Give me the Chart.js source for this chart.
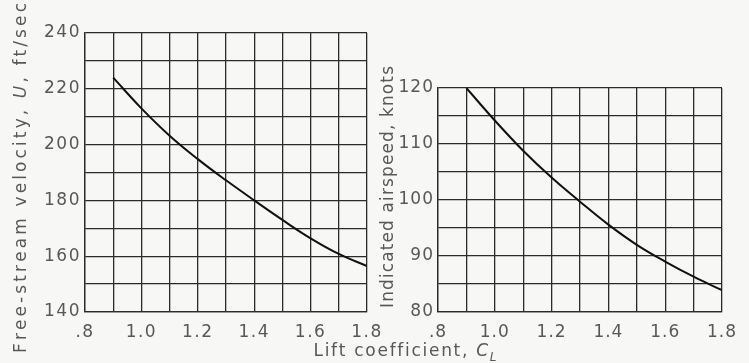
<!DOCTYPE html>
<html><head><meta charset="utf-8">
<script src="https://cdn.jsdelivr.net/npm/chart.js@4.4.1/dist/chart.umd.min.js"></script>
<style>
html,body{margin:0;padding:0;background:#f7f7f5;}
#wrap{position:relative;width:749px;height:363px;overflow:hidden;}
canvas{position:absolute;left:0;top:0;}
</style></head><body>
<div id="wrap"><canvas id="c1" width="749" height="363"></canvas><canvas id="c2" width="749" height="363"></canvas></div>
<script>
// ---- data ----
const liftCoefficient = [0.9, 1.0, 1.1, 1.2, 1.3, 1.4, 1.5, 1.6, 1.7, 1.8];
const freeStreamVelocity = [224, 213, 203.2, 194.8, 187.2, 180, 173, 166.4, 160.8, 156.5];
const indicatedAirspeed = [120, 114.2, 108.8, 104, 99.7, 95.6, 92, 89, 86.3, 83.9];
const xTickLabels = ['.8', '1.0', '1.2', '1.4', '1.6', '1.8'];
const velocityTickLabels = ['140', '160', '180', '200', '220', '240'];
const airspeedTickLabels = ['80', '90', '100', '110', '120'];
const velocityTitle = [{t: 'Free-stream velocity, '}, {t: 'U', it: true}, {t: ', ft/sec'}];
const airspeedTitle = [{t: 'Indicated airspeed, knots'}];
const xTitle = [{t: 'Lift coefficient, '}, {t: 'C', it: true}, {t: 'L', it: true, sub: true}];

// ---- style ----
const FAMILY = '"DejaVu Sans", sans-serif';
const TXT = '#585858';
const GRID = '#2b2b2b';
const FS = 17;

function drawRich(ctx, segs, cx, cy, rot, size, targetLen) {
  ctx.save();
  ctx.translate(cx, cy);
  if (rot) ctx.rotate(-Math.PI / 2);
  ctx.fillStyle = TXT;
  ctx.textBaseline = 'alphabetic';
  ctx.textAlign = 'left';
  ctx.letterSpacing = '0px';
  const fontFor = s => (s.it ? 'italic ' : '') + (s.sub ? Math.round(size * 0.72) : size) + 'px ' + FAMILY;
  const chars = [];
  segs.forEach(s => { for (const ch of s.t) chars.push({ch, s}); });
  let w = 0;
  chars.forEach(c => { ctx.font = fontFor(c.s); c.w = ctx.measureText(c.ch).width; w += c.w; });
  const ls = (targetLen - w) / (chars.length - 1);
  let x = -targetLen / 2;
  chars.forEach(c => {
    ctx.font = fontFor(c.s);
    ctx.fillText(c.ch, x, c.s.sub ? size * 0.28 : 0);
    x += c.w + ls;
  });
  ctx.restore();
}

function spacingPlugin(px) {
  return {
    id: 'spacing',
    beforeDraw(chart) { chart.ctx.letterSpacing = px + 'px'; },
    afterDraw(chart) { chart.ctx.letterSpacing = '0px'; }
  };
}

function makeChart(id, cfg) {
  return new Chart(document.getElementById(id), {
    type: 'line',
    data: {
      datasets: [{
        data: liftCoefficient.map((x, i) => ({x, y: cfg.values[i]})),
        borderColor: '#111', borderWidth: 2, pointRadius: 0,
        tension: 0.4, fill: false
      }]
    },
    options: {
      responsive: false, animation: false, events: [],
      layout: {padding: {left: cfg.left - cfg.yWidth, top: cfg.top, right: 749 - cfg.right, bottom: 0}},
      plugins: {legend: {display: false}, tooltip: {enabled: false}},
      scales: {
        x: {
          type: 'linear', min: 0.8, max: 1.8,
          ticks: {stepSize: 0.1, autoSkip: false, maxRotation: 0, minRotation: 0, padding: 10,
            color: TXT, font: {family: FAMILY, size: FS},
            callback: (v, i) => (i % 2 === 0 ? xTickLabels[i / 2] : '')},
          grid: {color: GRID, lineWidth: 1.3, drawTicks: false},
          border: {color: GRID, width: 1.3},
          afterFit: s => { s.height = 363 - cfg.bottom; }
        },
        y: {
          type: 'linear', min: cfg.min, max: cfg.max,
          ticks: {stepSize: cfg.step, autoSkip: false, padding: 4,
            color: TXT, font: {family: FAMILY, size: FS},
            callback: (v, i) => (i % 2 === 0 ? cfg.labels[i / 2] : '')},
          grid: {color: GRID, lineWidth: 1.3, drawTicks: false},
          border: {color: GRID, width: 1.3},
          afterFit: s => { s.width = cfg.yWidth; }
        }
      }
    },
    plugins: [spacingPlugin(cfg.spacing), {
      id: 'titles',
      afterDraw(chart) { cfg.titles(chart.ctx); }
    }]
  });
}

makeChart('c1', {
  values: freeStreamVelocity, labels: velocityTickLabels, min: 140, max: 240, step: 10,
  left: 85, right: 367, top: 33, bottom: 312, yWidth: 85, spacing: 1.5,
  titles: ctx => {
    drawRich(ctx, velocityTitle, 26, 178, true, FS, 350);
    drawRich(ctx, xTitle, 405, 356, false, FS, 183);
  }
});
makeChart('c2', {
  values: indicatedAirspeed, labels: airspeedTickLabels, min: 80, max: 120, step: 5,
  left: 438, right: 722, top: 88, bottom: 312, yWidth: 60, spacing: 1,
  titles: ctx => {
    drawRich(ctx, airspeedTitle, 393, 187, true, FS, 242);
  }
});
</script>
</body></html>
